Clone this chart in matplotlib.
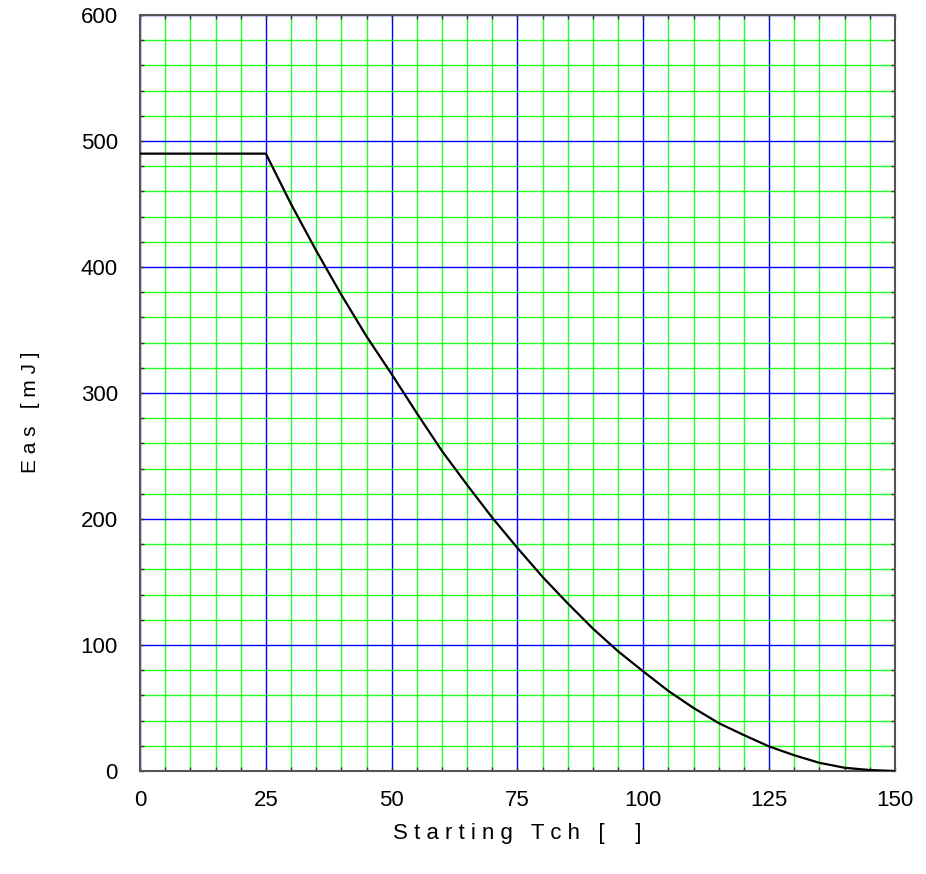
import matplotlib.pyplot as plt
import numpy as np

# Eas vs starting channel temperature
tch = [0, 25, 30, 35, 40, 45, 50, 55, 60, 65, 70, 75, 80, 85, 90, 95,
       100, 105, 110, 115, 120, 125, 130, 135, 140, 145, 150]
eas = [490, 490, 450, 413, 378, 345, 315, 284, 254, 227, 201, 177, 154, 133,
       113, 95, 79, 63.5, 50, 38, 28.5, 19.5, 12.5, 6.5, 2.6, 0.8, 0]

x_major = [0, 25, 50, 75, 100, 125, 150]
y_major = [0, 100, 200, 300, 400, 500, 600]

plt.rcParams['font.family'] = ['Liberation Sans', 'DejaVu Sans']

fig = plt.figure(figsize=(9.26, 8.74), dpi=100)
ax = fig.add_axes([0.1512, 0.1178, 0.8153, 0.8650])

ax.set_xlim(0, 150)
ax.set_ylim(0, 600)
ax.set_xticks(x_major)
ax.set_yticks(y_major)
ax.set_xticks(np.arange(0, 151, 5), minor=True)
ax.set_yticks(np.arange(0, 601, 20), minor=True)

ax.grid(which='minor', color='#00ff00', linewidth=1.0, alpha=0.85)
ax.grid(which='major', color='#0000ff', linewidth=1.0)
ax.set_axisbelow(True)

ax.plot(tch, eas, color='black', linewidth=1.6, zorder=5)

ax.tick_params(which='both', direction='in', top=True, right=True,
               length=3, width=1, color='#333333')
ax.tick_params(axis='x', which='major', labelsize=16, pad=14)
ax.tick_params(axis='y', which='major', labelsize=16, pad=16)
for s in ax.spines.values():
    s.set_color('#555555')
    s.set_linewidth(1.5)

ax.set_xlabel('S t a r t i n g   T c h   [     ]', fontsize=16, labelpad=8)
ax.set_ylabel('E a s   [ m J ]', fontsize=15)
ax.yaxis.set_label_coords(-0.133, 0.474)

fig.savefig('out.png', dpi=100)
